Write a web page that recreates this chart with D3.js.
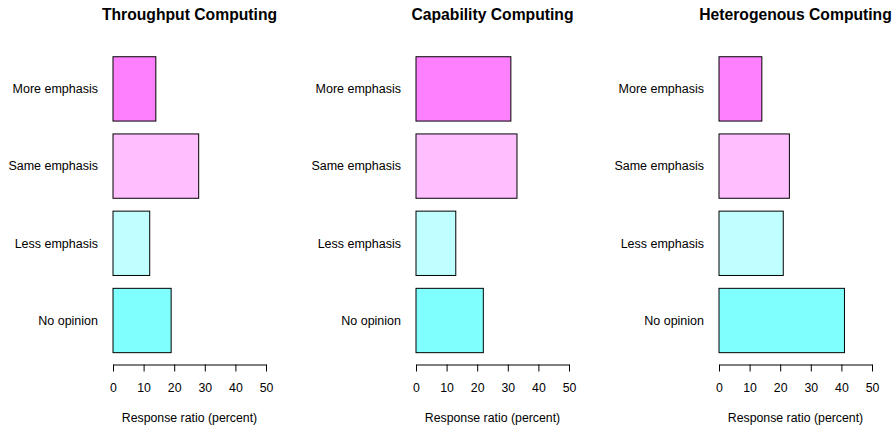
<!DOCTYPE html>
<html>
<head>
<meta charset="utf-8">
<script src="https://cdn.jsdelivr.net/npm/d3@7"></script>
<style>
  html, body { margin: 0; padding: 0; background: #fff; }
  svg { display: block; font-family: "Liberation Sans", Arial, Helvetica, sans-serif; }
</style>
</head>
<body>
<svg id="chart" width="893" height="429"></svg>
<script>
// Survey responses: share of respondents per emphasis level, one panel per computing area
const categories = ["More emphasis", "Same emphasis", "Less emphasis", "No opinion"];
const panelTitles = ["Throughput Computing", "Capability Computing", "Heterogenous Computing"];
const throughput = [14, 28, 12, 19];
const capability = [31, 33, 13, 22];
const heterogenous = [14, 23, 21, 41];
const barColors = ["#FF80FF", "#FFBFFF", "#BFFFFF", "#80FFFF"];
const tickValues = [0, 10, 20, 30, 40, 50];
const xLabel = "Response ratio (percent)";

const seriesList = [throughput, capability, heterogenous];

const svg = d3.select("#chart");

const panelStep = 303;       // horizontal distance between panels
const x0 = 113, x50 = 266;   // pixel positions of 0 and 50 in the first panel
const plotTop = 44.9, plotBottom = 364.5;

seriesList.forEach((values, p) => {
  const off = p * panelStep;
  const x = d3.scaleLinear().domain([0, 50]).range([x0 + off, x50 + off]);
  const y = d3.scaleBand()
    .domain(categories)
    .range([plotTop, plotBottom])
    .paddingInner(1 / 6)
    .paddingOuter(0.1533);

  const g = svg.append("g");

  // bars
  g.selectAll("rect")
    .data(categories)
    .join("rect")
    .attr("x", x(0))
    .attr("y", d => y(d))
    .attr("width", (d, i) => x(values[i]) - x(0))
    .attr("height", y.bandwidth())
    .attr("fill", (d, i) => barColors[i])
    .attr("stroke", "#000")
    .attr("stroke-width", 1);

  // category labels
  g.selectAll("text.cat")
    .data(categories)
    .join("text")
    .attr("class", "cat")
    .attr("x", x(0) - 15)
    .attr("y", d => y(d) + y.bandwidth() / 2)
    .attr("dy", "0.35em")
    .attr("text-anchor", "end")
    .attr("font-size", 12.5)
    .attr("fill", "#000")
    .text(d => d);

  // x axis
  const axis = d3.axisBottom(x)
    .tickValues(tickValues)
    .tickFormat(d3.format("d"))
    .tickSize(7)
    .tickSizeOuter(0)
    .tickPadding(11.5);
  const ax = g.append("g")
    .attr("transform", `translate(0,${plotBottom})`)
    .call(axis);
  ax.attr("font-family", null).attr("font-size", null);
  ax.selectAll("text").attr("font-size", 12.3).attr("fill", "#000");
  ax.selectAll("line, path").attr("stroke", "#000");

  // axis title
  g.append("text")
    .attr("x", x(25))
    .attr("y", 421.5)
    .attr("text-anchor", "middle")
    .attr("font-size", 12.3)
    .attr("fill", "#000")
    .text(xLabel);

  // panel title
  g.append("text")
    .attr("x", x(25))
    .attr("y", 20.3)
    .attr("text-anchor", "middle")
    .attr("font-size", 15.7)
    .attr("font-weight", "bold")
    .attr("fill", "#000")
    .text(panelTitles[p]);
});
</script>
</body>
</html>
